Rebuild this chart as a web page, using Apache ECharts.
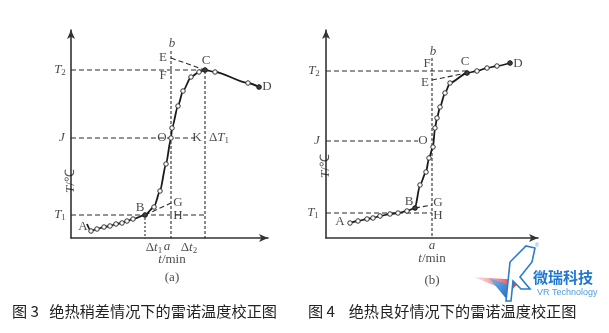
<!DOCTYPE html>
<html><head><meta charset="utf-8">
<script src="https://cdn.jsdelivr.net/npm/echarts@6/dist/echarts.min.js"></script>
<style>html,body{margin:0;padding:0;background:#fff}#c{width:609px;height:333px}</style>
</head><body><div id="c"></div>
<script>
// ---------- Figure (a): 绝热稍差 ----------
const curveA = [[1.6,1.4],[2.0,0.7],[2.6,0.9],[3.3,1.1],[3.9,1.2],[4.5,1.4],[5.1,1.5],[5.6,1.7],[6.2,1.9],[7.4,2.3],[8.3,3.1],[8.9,4.7],[9.5,7.4],[10.0,10.0],[10.1,11.0],[10.7,13.2],[11.2,14.7],[12.0,16.1],[12.8,16.6],[13.4,16.8],[14.4,16.6],[17.7,15.5],[18.8,15.1]];
const keyA = {A:[1.6,1.4], B:[7.4,2.3], C:[13.4,16.8], D:[18.8,15.1]};
const levelsA = {T1:2.3, J:10.0, T2:16.8, E:18.0, G:3.5, top:18.8};
const timesA = {tB:7.4, ta:10.0, tC:13.4, jEnd:12.4};
const xMaxA = 19.7, yMaxA = 20.8;

// ---------- Figure (b): 绝热良好 ----------
const curveB = [[2.4,1.5],[3.2,1.7],[4.1,1.9],[4.7,2.0],[5.4,2.2],[6.4,2.4],[7.2,2.5],[8.1,2.7],[8.9,3.0],[9.4,5.3],[10.0,6.6],[10.3,8.0],[10.7,9.1],[10.9,11.0],[11.1,12.0],[11.4,13.1],[11.9,14.5],[12.4,15.5],[14.1,16.5],[15.1,16.7],[16.1,17.0],[17.1,17.2],[18.4,17.5]];
const keyB = {A:[2.4,1.5], B:[8.9,3.0], C:[14.1,16.5], D:[18.4,17.5]};
const levelsB = {T1:2.5, J:9.7, T2:16.7, E:15.8, G:3.3, top:18.1};
const timesB = {tB:8.9, ta:10.6, tC:14.1, jEnd:9.2};
const xMaxB = 21.2, yMaxB = 20.8;

const SERIF = 'Liberation Serif';
const INK = '#1a1a1a';
const rich = {
  i:{fontFamily:SERIF,fontStyle:'italic',fontSize:13,color:INK,lineHeight:15},
  s:{fontFamily:SERIF,fontSize:9,color:INK,lineHeight:15,verticalAlign:'bottom',padding:[4,0,0,0]}
};

function axes(idx, xMax, yMax){
  const line = {show:true, symbol:['none','arrow'], symbolSize:[6,9], lineStyle:{color:'#333',width:1.6}};
  return {
    x:{type:'value',gridIndex:idx,min:0,max:xMax,axisLine:line,axisTick:{show:false},axisLabel:{show:false},splitLine:{show:false}},
    y:{type:'value',gridIndex:idx,min:0,max:yMax,axisLine:line,axisTick:{show:false},axisLabel:{show:false},splitLine:{show:false}}
  };
}

function guide(idx, pts, dash){
  return {type:'line',xAxisIndex:idx,yAxisIndex:idx,data:pts,symbol:'none',silent:true,
    lineStyle:{color:'#2a2a2a',width:1.1,type:dash||[5,3]},z:1,animation:false};
}

function buildFigure(idx, curve, key, L, T, firstMarker, labels){
  const s = [];
  s.push(guide(idx, [[0,L.T2],[T.tC,L.T2]]));
  s.push(guide(idx, [[0,L.J],[T.jEnd,L.J]]));
  s.push(guide(idx, [[0,L.T1],[idx===0 ? T.tC : T.ta, L.T1]]));
  s.push(guide(idx, [[T.ta, idx===0?-0.6:-0.3],[T.ta, L.top]], [3,2]));
  s.push(guide(idx, [[T.ta,L.E],key.C]));
  s.push(guide(idx, [key.B,[T.ta,L.G]]));
  if (idx===0){
    s.push(guide(idx, [[T.tC,-0.6],[T.tC,L.T2]], [3,2]));
    s.push(guide(idx, [[T.tB,-0.6],key.B], [2,2]));
  }
  s.push({type:'line',xAxisIndex:idx,yAxisIndex:idx,
    data:curve.map((p,i)=> (i===0 && !firstMarker) ? {value:p,symbol:'none'} : p),
    smooth:0.25, smoothMonotone:'x', symbol:'circle', symbolSize:4.5, showSymbol:true,
    itemStyle:{color:'#fff',borderColor:'#333',borderWidth:1},
    lineStyle:{color:INK,width:1.8}, z:3, animation:false, silent:true});
  s.push({type:'scatter',xAxisIndex:idx,yAxisIndex:idx,data:[key.B,key.C,key.D],
    symbolSize:5,itemStyle:{color:'#111'},z:4,animation:false,silent:true});
  s.push({type:'scatter',xAxisIndex:idx,yAxisIndex:idx,clip:false,symbolSize:0,silent:true,z:5,animation:false,
    data:labels.map(l=>({value:l.at,label:{show:true,position:'inside',formatter:l.t,offset:l.o,rotate:l.r||0,
      fontFamily:SERIF,fontSize:13,color:INK,rich:rich}}))});
  return s;
}

const labelsA = [
  {t:'{i|T}{s|2}', at:[0,levelsA.T2], o:[-11,0]},
  {t:'{i|J}', at:[0,levelsA.J], o:[-9,0]},
  {t:'{i|T}{s|1}', at:[0,levelsA.T1], o:[-11,0]},
  {t:'{i|T}/℃', at:[0,8.8], o:[-31,0], r:90},
  {t:'A', at:keyA.A, o:[-4,3]},
  {t:'B', at:keyA.B, o:[-5,-7]},
  {t:'C', at:keyA.C, o:[1,-9]},
  {t:'D', at:keyA.D, o:[8,0]},
  {t:'E', at:[timesA.ta,levelsA.E], o:[-8,0]},
  {t:'F', at:[timesA.ta,levelsA.T2], o:[-8,6]},
  {t:'{i|b}', at:[timesA.ta,levelsA.top], o:[1,-6]},
  {t:'O', at:[timesA.ta,levelsA.J], o:[-9,0]},
  {t:'K', at:[timesA.tC,levelsA.J], o:[-8,0]},
  {t:'Δ{i|T}{s|1}', at:[timesA.tC,levelsA.J], o:[14,0]},
  {t:'G', at:[timesA.ta,levelsA.G], o:[7,0]},
  {t:'H', at:[timesA.ta,levelsA.T1], o:[7,1]},
  {t:'Δ{i|t}{s|1}', at:[timesA.tB,0], o:[9,10]},
  {t:'{i|a}', at:[timesA.ta,0], o:[-4,9]},
  {t:'Δ{i|t}{s|2}', at:[timesA.ta,0], o:[18,10]},
  {t:'{i|t}/min', at:[timesA.ta,0], o:[1,22]},
  {t:'(a)', at:[timesA.ta,0], o:[1,40]}
];
const labelsB = [
  {t:'{i|T}{s|2}', at:[0,levelsB.T2], o:[-12,0]},
  {t:'{i|J}', at:[0,levelsB.J], o:[-9,0]},
  {t:'{i|T}{s|1}', at:[0,levelsB.T1], o:[-13,0]},
  {t:'{i|T}/℃', at:[0,9.6], o:[-24,0], r:90},
  {t:'A', at:keyB.A, o:[-10,-1]},
  {t:'B', at:keyB.B, o:[-6,-6]},
  {t:'C', at:keyB.C, o:[-2,-11]},
  {t:'D', at:keyB.D, o:[8,1]},
  {t:'E', at:[timesB.ta,levelsB.E], o:[-7,3]},
  {t:'F', at:[timesB.ta,levelsB.T2], o:[-5,-7]},
  {t:'{i|b}', at:[timesB.ta,levelsB.top], o:[1,-5]},
  {t:'O', at:[timesB.ta,levelsB.J], o:[-9,0]},
  {t:'G', at:[timesB.ta,levelsB.G], o:[6,-2]},
  {t:'H', at:[timesB.ta,levelsB.T1], o:[6,3]},
  {t:'{i|a}', at:[timesB.ta,0], o:[0,8]},
  {t:'{i|t}/min', at:[timesB.ta,0], o:[0,21]},
  {t:'(b)', at:[timesB.ta,0], o:[0,43]}
];

const aA = axes(0,xMaxA,yMaxA), aB = axes(1,xMaxB,yMaxB);
const option = {
  backgroundColor:'#fff',
  animation:false,
  grid:[{left:71,top:30,width:197,height:208},{left:326,top:30,width:212,height:208}],
  xAxis:[aA.x,aB.x], yAxis:[aA.y,aB.y],
  series:[...buildFigure(0,curveA,keyA,levelsA,timesA,false,labelsA),
          ...buildFigure(1,curveB,keyB,levelsB,timesB,true,labelsB)],
  graphic:[
    {type:'text',left:12,top:304,style:{text:'图 3   绝热稍差情况下的雷诺温度校正图',font:'15.2px "Noto Sans CJK SC"',fill:'#222'}},
    {type:'text',left:308,top:304,style:{text:'图 4    绝热良好情况下的雷诺温度校正图',font:'15.2px "Noto Sans CJK SC"',fill:'#222'}},
    {type:'polygon',shape:{points:[[474,277],[521,280],[510,292]]},style:{fill:{type:'linear',x:0,y:0,x2:1,y2:0,colorStops:[{offset:0,color:'rgba(240,80,80,0.15)'},{offset:1,color:'#e02424'}]}}},
    {type:'polygon',shape:{points:[[489,278],[509,302],[507,284]]},style:{fill:{type:'linear',x:0,y:0,x2:1,y2:1,colorStops:[{offset:0,color:'#7fb7ea'},{offset:1,color:'#1565c0'}]}}},
    {type:'polygon',shape:{points:[[506,301],[510,262],[526,246],[535,248],[532,262],[520,277],[530,289],[521,289],[513,281],[511,301]]},style:{fill:'#fff',stroke:'#2a7ccc',lineWidth:1.6}},
    {type:'text',left:533,top:270,style:{text:'微瑞科技',font:'bold 15px "Noto Sans CJK SC"',fill:'#1e78d2'}},
    {type:'text',left:537,top:288,style:{text:'VR Technology',font:'9px "Liberation Sans"',fill:'#4a9be0'}},
    {type:'text',left:535,top:243,style:{text:'®',font:'5px "Liberation Sans"',fill:'#4a9be0'}}
  ]
};
echarts.init(document.getElementById('c'),null,{renderer:'canvas'}).setOption(option);
</script>
</body></html>
